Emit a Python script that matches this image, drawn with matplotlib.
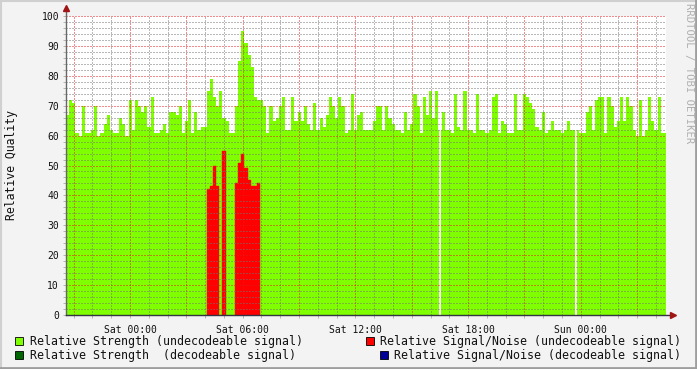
import numpy as np
import matplotlib
matplotlib.use("Agg")
import matplotlib.pyplot as plt
from matplotlib.patches import Rectangle
from matplotlib.lines import Line2D

plt.rcParams['font.family'] = ['DejaVu Sans Mono']

# time axis in hours relative to Sat 00:00, 10 minute steps
start_hour = -3.41
end_hour = 28.54
step_min = 10

# relative strength (undecodeable signal), one value per step
strength_undec = [
    67, 72, 71, 61, 60, 70, 61, 61, 62, 70, 60, 61, 64, 67, 62, 61, 61, 66, 64, 60,
    72, 62, 72, 70, 68, 70, 63, 73, 61, 61, 62, 64, 61, 68, 68, 67, 70, 61, 65, 72,
    61, 68, 62, 63, 63, 75, 79, 73, 70, 75, 66, 65, 61, 61, 70, 85, 95, 91, 87, 83,
    73, 72, 72, 70, 61, 70, 65, 66, 70, 73, 62, 62, 73, 65, 68, 65, 70, 64, 62, 71,
    62, 66, 63, 67, 73, 70, 66, 73, 70, 61, 62, 74, 62, 67, 68, 62, 62, 62, 65, 70,
    70, 62, 70, 66, 64, 62, 62, 61, 68, 62, 64, 74, 70, 61, 73, 67, 75, 66, 75, 62,
    68, 62, 62, 61, 74, 63, 62, 75, 62, 62, 61, 74, 62, 62, 61, 62, 73, 74, 61, 65,
    64, 61, 61, 74, 62, 62, 74, 73, 71, 69, 63, 62, 68, 61, 62, 65, 62, 62, 61, 62,
    65, 62, 62, 62, 61, 61, 68, 70, 62, 72, 73, 73, 61, 73, 70, 63, 65, 73, 65, 73,
    70, 62, 60, 72, 60, 62, 73, 65, 62, 73, 61, 61,
]

# relative signal/noise (undecodeable signal): step index -> value
snr_steps = [45, 46, 47, 48, 50, 54, 55, 56, 57, 58, 59, 60, 61]
snr_undec = [42, 43, 50, 43, 55, 44, 51, 54, 49, 45, 43, 43, 44]

# unknown samples (hours)
unknown_at = [16.46, 23.72]
unknown_len = 5 / 60

tick_hours = [0, 6, 12, 18, 24]
tick_labels = ['Sat 00:00', 'Sat 06:00', 'Sat 12:00', 'Sat 18:00', 'Sun 00:00']

legend_items = [
    ('Relative Strength (undecodeable signal)', '#80ff00'),
    ('Relative Strength  (decodeable signal)', '#006600'),
    ('Relative Signal/Noise (undecodeable signal)', '#ff0000'),
    ('Relative Signal/Noise (decodeable signal)', '#000099'),
]

W, H = 697, 369
fig = plt.figure(figsize=(W / 100, H / 100), dpi=100, facecolor='#f3f3f3')
ax = fig.add_axes([66 / W, (H - 315) / H, 600 / W, 299 / H])
ax.set_facecolor('white')

step_h = step_min / 60
edges = start_hour + step_h * np.arange(len(strength_undec) + 1)
ax.stairs(strength_undec, edges, fill=True, color='#80ff00', baseline=0, zorder=1)

snr_x = start_hour + step_h * np.array(snr_steps)
ax.bar(snr_x, snr_undec, width=step_h, align='edge', color='#ff0000',
       edgecolor='#ff0000', linewidth=0.3, zorder=2)

for t in unknown_at:
    ax.axvspan(t, t + unknown_len, color='white', lw=0, zorder=2.2)

ax.set_xlim(start_hour, end_hour)
ax.set_ylim(0, 100)

# grid: minor every hour / 2 units, major every 3 hours / 10 units
ax.set_xticks(np.arange(-3, 28, 3))
ax.set_xticks(np.arange(-3, 29, 1), minor=True)
lab = dict(zip(tick_hours, tick_labels))
ax.set_xticklabels([lab.get(int(h), '') for h in np.arange(-3, 28, 3)])
ax.set_yticks(np.arange(0, 101, 10))
ax.set_yticks(np.arange(0, 101, 2), minor=True)
ax.set_axisbelow(False)
ax.grid(which='minor', color=(0.45, 0.45, 0.45, 0.3), linestyle=(0, (1, 2)), linewidth=0.72)
ax.grid(which='major', color=(0.9, 0.1, 0.1, 0.3), linestyle=(0, (1, 2)), linewidth=0.72)

ax.tick_params(which='both', length=2, width=0.6, color='#aaaaaa', labelsize=7,
               pad=3, labelcolor='#111111')
ax.tick_params(axis='x', pad=5)

for s in ax.spines.values():
    s.set_visible(False)
# axis lines with arrows
ax.add_line(Line2D([0, 0], [0, 1.025], transform=ax.transAxes, color='#666666',
                   lw=1, clip_on=False, zorder=5))
ax.add_line(Line2D([0, 1.01], [0, 0], transform=ax.transAxes, color='#333344',
                   lw=1, clip_on=False, zorder=5))
ax.plot([0], [1.027], marker='^', ms=4, color='#a01515', transform=ax.transAxes, clip_on=False, zorder=6)
ax.plot([1.012], [0], marker='>', ms=4, color='#a01515', transform=ax.transAxes, clip_on=False, zorder=6)

fig.text(12 / W, 1 - 165 / H, 'Relative Quality', rotation=90, ha='center', va='center',
         fontsize=8.3, color='#111111')
fig.text(689 / W, 1 - 3 / H, 'RRDTOOL / TOBI OETIKER', rotation=270, ha='center', va='top',
         fontsize=7.6, color='#b0b0b0')

# legend
rows = [341, 355]
for i, (name, col) in enumerate(legend_items):
    y = 1 - rows[i % 2] / H
    if i < 2:
        bx, tx = 15, 30
    else:
        bx = 366 if i == 2 else 380
        tx = bx + 14
    fig.patches.append(Rectangle((bx / W, y - 4 / H), 8 / W, 8 / H, transform=fig.transFigure,
                                 facecolor=col, edgecolor='black', lw=0.6))
    fig.text(tx / W, y, name, ha='left', va='center', fontsize=8.4, color='#111111')

# frame
fig.add_artist(Line2D([0, 1], [1 - 1 / H, 1 - 1 / H], transform=fig.transFigure, color='#d0d0d0', lw=1.5))
fig.add_artist(Line2D([1 / W, 1 / W], [0, 1], transform=fig.transFigure, color='#d0d0d0', lw=1.5))
fig.add_artist(Line2D([0, 1], [1 / H, 1 / H], transform=fig.transFigure, color='#9e9e9e', lw=2))
fig.add_artist(Line2D([1 - 1 / W, 1 - 1 / W], [0, 1], transform=fig.transFigure, color='#9e9e9e', lw=2))

fig.savefig('out.png', dpi=100, facecolor=fig.get_facecolor())
